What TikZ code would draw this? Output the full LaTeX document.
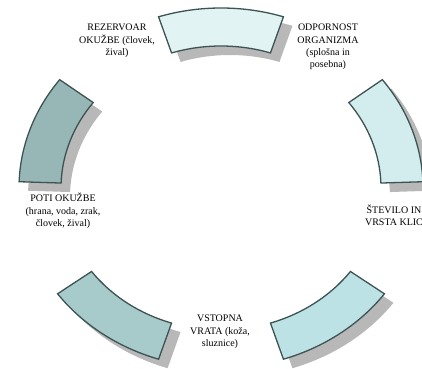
\documentclass[tikz,border=0pt]{standalone}
\usepackage{fontspec}
\setmainfont{Liberation Serif}
\definecolor{edgec}{HTML}{3D5353}
\definecolor{segA}{HTML}{E2F3F3}
\definecolor{segB}{HTML}{D3ECEE}
\definecolor{segC}{HTML}{BCE2E6}
\definecolor{segD}{HTML}{A7CACA}
\definecolor{segE}{HTML}{97B7B7}
\definecolor{shadowc}{HTML}{B8B8B8}
\newcommand\ringpart[2]{({221+202*cos(#1)},{180+180*sin(#1)}) arc[start angle=#1, end angle=#2, x radius=202, y radius=180] -- ({221+160*cos(#2)},{180+142*sin(#2)}) arc[start angle=#2, end angle=#1, x radius=160, y radius=142] -- cycle}
\tikzset{
  segshadow/.style={fill=shadowc, shift={(9,-9)}},
  segbox/.style={draw=edgec, line width=1.3pt, line join=miter},
  lbl/.style={align=center, inner sep=0pt, font=\fontsize{10}{12.3}\selectfont}
}
\begin{document}
\begin{tikzpicture}[x=1pt,y=1pt]
\useasboundingbox (0,0) rectangle (422,368);
% shadows
\fill[segshadow] \ringpart{72}{108};
\fill[segshadow] \ringpart{2}{37};
\fill[segshadow] \ringpart{288}{324};
\fill[segshadow] \ringpart{216}{252};
\fill[segshadow] \ringpart{143}{178};
% segments
\filldraw[segbox, fill=segA] \ringpart{72}{108};
\filldraw[segbox, fill=segB] \ringpart{2}{37};
\filldraw[segbox, fill=segC] \ringpart{288}{324};
\filldraw[segbox, fill=segD] \ringpart{216}{252};
\filldraw[segbox, fill=segE] \ringpart{143}{178};
% labels
\node[lbl] (rez) at (117,327) {REZERVOAR\\OKUŽBE (človek,\\žival)};
\node[lbl] (odp) at (328,321) {ODPORNOST\\ORGANIZMA\\(splošna in\\posebna)};
\node[lbl] (stev) at (394,153) {ŠTEVILO IN\\VRSTA KLIC};
\node[lbl] (vst) at (220,36) {VSTOPNA\\VRATA (koža,\\sluznice)};
\node[lbl] (poti) at (63,157) {POTI OKUŽBE\\(hrana, voda, zrak,\\človek, žival)};
\end{tikzpicture}
\end{document}
